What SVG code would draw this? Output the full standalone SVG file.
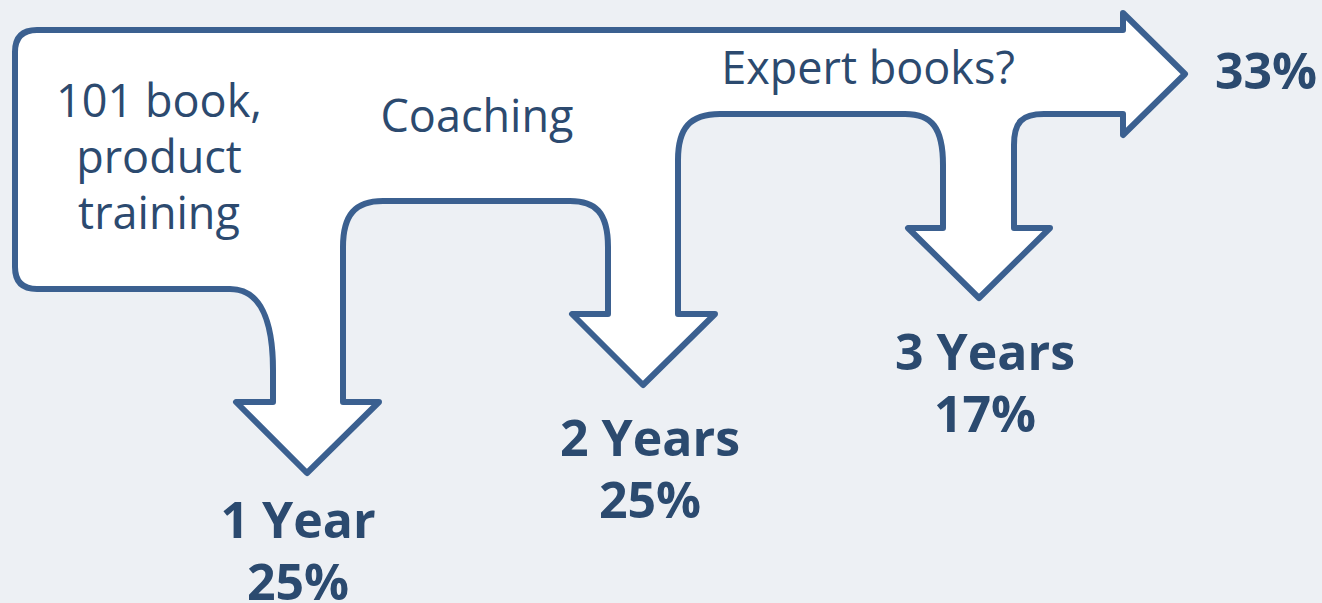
<svg xmlns="http://www.w3.org/2000/svg" width="1322" height="603" viewBox="0 0 1322 603">
<style>
.bg{fill:#edf0f4}
.arrow{fill:#ffffff;stroke:#3b6090;stroke-width:6;stroke-linejoin:round}
.lbl{font-family:"Open Sans","Noto Sans","Liberation Sans",sans-serif;font-size:45px;fill:#2c4a6f;text-anchor:middle}
.big{font-family:"Open Sans","Noto Sans","Liberation Sans",sans-serif;font-size:50px;font-weight:bold;fill:#2b4a6f;text-anchor:middle}
</style>
<rect class="bg" x="0" y="0" width="1322" height="603"/>
<g id="flow-arrow">
<path class="arrow" d="M15 52 Q15 30 37 30 L1123 30 L1123 13 L1185 74 L1123 135 L1123 114 L1044 114 C1022 114 1014 122 1014 145 L1014 228 L1050 228 L979 298 L908 228 L943 228 L943 165 C943 128 932 114 905 114 L720 114 C690 114 678 128 678 160 L678 314 L715 314 L643 385 L572 314 L608 314 L608 247 C608 212 595 201 570 201 L383 201 C355 201 343 215 343 247 L343 402 L379 402 L307 473 L236 402 L273 402 L273 370 C273 320 260 289 230 289 L37 289 Q15 289 15 267 Z"/>
</g>
<g id="stage-start">
<text class="lbl" x="159" y="117">101 book,</text>
<text class="lbl" x="159" y="173">product</text>
<text class="lbl" x="159" y="229">training</text>
</g>
<g id="stage-coaching">
<text class="lbl" x="477" y="132">Coaching</text>
</g>
<g id="stage-expert">
<text class="lbl" x="868" y="84">Expert books?</text>
</g>
<g id="result-1year">
<text class="big" x="298" y="538">1 Year</text>
<text class="big" x="298" y="600">25%</text>
</g>
<g id="result-2years">
<text class="big" x="650" y="456">2 Years</text>
<text class="big" x="650" y="518">25%</text>
</g>
<g id="result-3years">
<text class="big" x="985" y="370">3 Years</text>
<text class="big" x="985" y="432">17%</text>
</g>
<g id="result-beyond">
<text class="big" x="1266" y="89">33%</text>
</g>
</svg>
